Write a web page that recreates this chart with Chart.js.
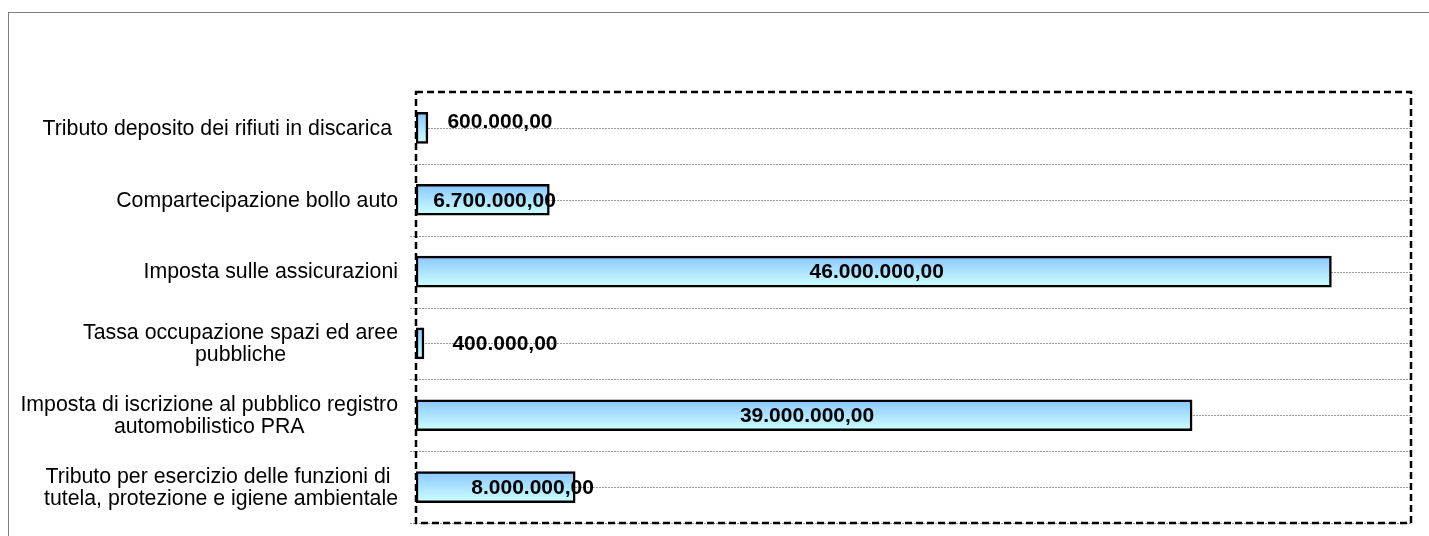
<!DOCTYPE html>
<html>
<head>
<meta charset="utf-8">
<script src="https://cdn.jsdelivr.net/npm/chart.js@4"></script>
<style>
  html, body { margin: 0; padding: 0; background: #fff; overflow: hidden; }
  #frame { position: absolute; left: 8px; top: 12px; width: 1600px; height: 700px; border: 1px solid #808080; }
  #wrap { position: absolute; left: 0; top: 0; width: 1429px; height: 536px; }
</style>
</head>
<body>
<div id="frame"></div>
<div id="wrap"><canvas id="chart" width="1429" height="536"></canvas></div>
<script>
const categories = [
  ["Tributo deposito dei rifiuti in discarica "],
  ["Compartecipazione bollo auto"],
  ["Imposta sulle assicurazioni"],
  ["Tassa occupazione spazi ed aree", "pubbliche"],
  ["Imposta di iscrizione al pubblico registro", "automobilistico PRA"],
  ["Tributo per esercizio delle funzioni di ", "tutela, protezione e igiene ambientale"]
];
const amounts = [600000, 6700000, 46000000, 400000, 39000000, 8000000];
const axisMax = 50000000;

// labels were moved by hand in the original, so nudge them (px from bar centre)
const labelShift = [[78, -7], [12, 0], [3, 0], [85, 0], [3, 0], [37, 0]];

const FONT = '"Liberation Sans", Arial, sans-serif';

function formatEuro(v) {
  const int = Math.floor(v).toString().replace(/\B(?=(\d{3})+(?!\d))/g, ".");
  const dec = Math.round((v - Math.floor(v)) * 100).toString().padStart(2, "0");
  return int + "," + dec;
}

const decorations = {
  id: "decorations",
  beforeDatasetsDraw(chart) {
    const { ctx, chartArea, scales: { y } } = chart;
    const step = y.getPixelForValue(1) - y.getPixelForValue(0);
    ctx.save();
    ctx.strokeStyle = "#9a9a9a";
    ctx.lineWidth = 1;
    ctx.setLineDash([2, 1]);
    categories.forEach((_, i) => {
      const cy = Math.round(y.getPixelForValue(i)) + 0.5;
      ctx.beginPath();
      ctx.moveTo(chartArea.left, cy);
      ctx.lineTo(chartArea.right, cy);
      ctx.stroke();
      const by = Math.round(y.getPixelForValue(i) + step / 2) + 0.5;
      ctx.beginPath();
      ctx.moveTo(chartArea.left - 6, by);
      ctx.lineTo(chartArea.right, by);
      ctx.stroke();
    });
    ctx.restore();
  },
  afterDraw(chart) {
    const { ctx, chartArea, scales: { y } } = chart;
    const meta = chart.getDatasetMeta(0);

    // value labels
    ctx.save();
    ctx.fillStyle = "#000";
    ctx.font = "bold 21px " + FONT;
    ctx.textAlign = "center";
    ctx.textBaseline = "middle";
    meta.data.forEach((bar, i) => {
      const cx = (bar.x + bar.base) / 2 + labelShift[i][0];
      ctx.fillText(formatEuro(amounts[i]), cx, bar.y + labelShift[i][1] + 1);
    });
    ctx.restore();

    // category labels: block right aligned, lines centred inside
    ctx.save();
    ctx.fillStyle = "#000";
    ctx.font = "21.3px " + FONT;
    ctx.textAlign = "center";
    ctx.textBaseline = "middle";
    const rightEdge = chartArea.left - 18;
    categories.forEach((lines, i) => {
      const cy = y.getPixelForValue(i);
      const w = Math.max(...lines.map((l) => ctx.measureText(l).width));
      const cx = rightEdge - w / 2;
      lines.forEach((l, k) => {
        ctx.fillText(l, cx, cy + (k - (lines.length - 1) / 2) * 22 + 1);
      });
    });
    ctx.restore();

    // dashed plot frame
    ctx.save();
    ctx.strokeStyle = "#000";
    ctx.lineWidth = 2.5;
    ctx.setLineDash([7, 4]);
    ctx.strokeRect(chartArea.left, chartArea.top, chartArea.right - chartArea.left, chartArea.bottom - chartArea.top);
    ctx.restore();
  }
};

new Chart(document.getElementById("chart"), {
  type: "bar",
  data: {
    labels: categories,
    datasets: [
      {
        data: amounts,
        barThickness: 31,
        borderWidth: 2.5,
        borderColor: "#000",
        borderSkipped: false,
        backgroundColor: (c) => {
          const chart = c.chart;
          const y = chart.scales.y;
          if (!chart.chartArea || !y || c.dataIndex === undefined) return "#b0dcff";
          const cy = y.getPixelForValue(c.dataIndex);
          const g = chart.ctx.createLinearGradient(0, cy - 15, 0, cy + 15);
          g.addColorStop(0, "#8cc6ff");
          g.addColorStop(1, "#cdffff");
          return g;
        }
      }
    ]
  },
  options: {
    indexAxis: "y",
    responsive: false,
    animation: false,
    layout: { padding: { left: 416, top: 92, right: 18, bottom: 13 } },
    scales: {
      x: { display: false, min: 0, max: axisMax },
      y: { display: false }
    },
    plugins: {
      legend: { display: false },
      tooltip: { enabled: false }
    }
  },
  plugins: [decorations]
});
</script>
</body>
</html>
